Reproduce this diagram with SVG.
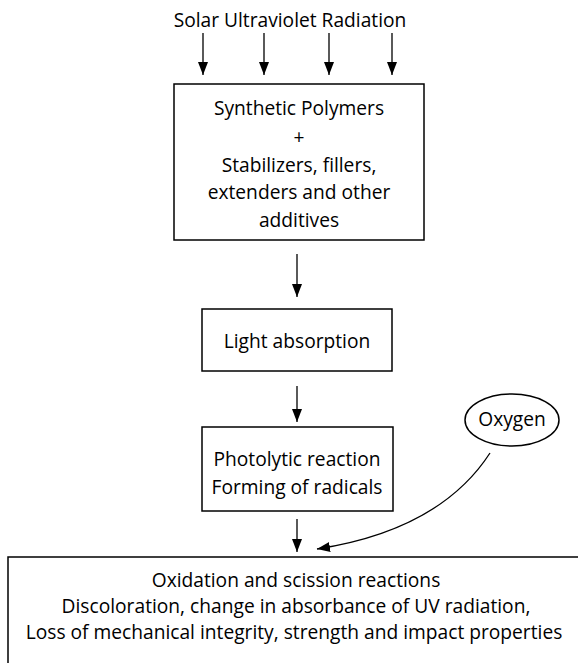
<svg xmlns="http://www.w3.org/2000/svg" width="578" height="663" viewBox="0 0 578 663">
<style>
.box{fill:#fff;stroke:#000;stroke-width:1.5}
.t{font-family:"Open Sans","Noto Sans",sans-serif;font-size:19.2px;fill:#000;text-anchor:middle}
.c{fill:none;stroke:#000;stroke-width:1.3}
</style>
<defs>
<marker id="ah" viewBox="0 0 13 10" refX="13" refY="5" markerWidth="13" markerHeight="10" markerUnits="userSpaceOnUse" orient="auto">
<path d="M0,0 L13,5 L0,10 Z" fill="#000"/>
</marker>
</defs>
<rect width="578" height="663" fill="#fff"/>
<g id="uv"><text class="t" x="290" y="27">Solar Ultraviolet Radiation</text></g>
<g id="polymers">
<rect class="box" x="174" y="84" width="250" height="156"/>
<text class="t" x="299" y="115">Synthetic Polymers</text>
<text class="t" x="299" y="144">+</text>
<text class="t" x="299" y="172">Stabilizers, fillers,</text>
<text class="t" x="299" y="199">extenders and other</text>
<text class="t" x="299" y="227">additives</text>
</g>
<g id="light">
<rect class="box" x="202" y="309" width="190" height="62"/>
<text class="t" x="297" y="348">Light absorption</text>
</g>
<g id="photolytic">
<rect class="box" x="202" y="427" width="191" height="84"/>
<text class="t" x="297" y="466">Photolytic reaction</text>
<text class="t" x="297" y="494">Forming of radicals</text>
</g>
<g id="oxygen">
<ellipse class="box" cx="512" cy="420" rx="47" ry="26"/>
<text class="t" x="512" y="426">Oxygen</text>
</g>
<g id="result">
<rect class="box" x="8" y="557" width="582" height="120"/>
<text class="t" x="296" y="587">Oxidation and scission reactions</text>
<text class="t" x="296" y="613">Discoloration, change in absorbance of UV radiation,</text>
<text class="t" x="294" y="639">Loss of mechanical integrity, strength and impact properties</text>
</g>
<g id="connectors">
<line class="c" x1="203" y1="33" x2="203" y2="75" marker-end="url(#ah)"/>
<line class="c" x1="264" y1="33" x2="264" y2="75" marker-end="url(#ah)"/>
<line class="c" x1="329" y1="33" x2="329" y2="75" marker-end="url(#ah)"/>
<line class="c" x1="392" y1="33" x2="392" y2="75" marker-end="url(#ah)"/>
<line class="c" x1="297" y1="254" x2="297" y2="297" marker-end="url(#ah)"/>
<line class="c" x1="297" y1="386" x2="297" y2="422" marker-end="url(#ah)"/>
<line class="c" x1="297" y1="519" x2="297" y2="552" marker-end="url(#ah)"/>
<path class="c" d="M490,453 Q440,530 317,549" marker-end="url(#ah)"/>
</g>
</svg>
